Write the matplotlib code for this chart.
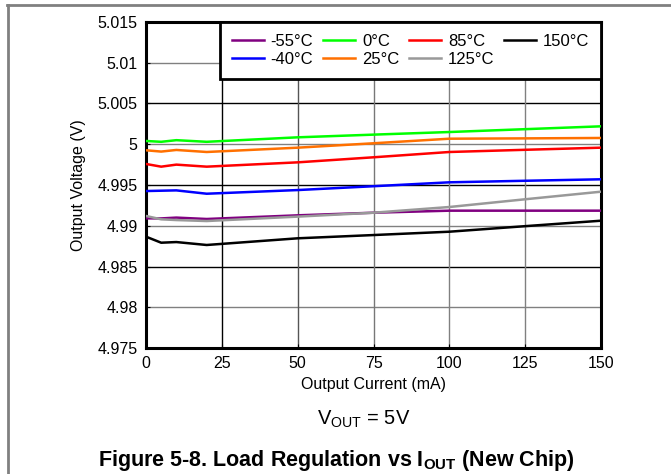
import matplotlib
matplotlib.use("Agg")
import matplotlib.pyplot as plt
from matplotlib.lines import Line2D

plt.rcParams['font.family'] = ['Liberation Sans', 'DejaVu Sans']
plt.rcParams['mathtext.fontset'] = 'custom'
plt.rcParams['mathtext.rm'] = 'Liberation Sans'
plt.rcParams['mathtext.bf'] = 'Liberation Sans:bold'

# Load regulation data: output current (mA) vs output voltage (V)
current = [0, 5, 10, 20, 50, 75, 100, 125, 150]

v_m55 = [4.99091, 4.99090, 4.99100, 4.99083, 4.99128, 4.99160, 4.99185, 4.99185, 4.99185]
v_m40 = [4.99426, 4.99430, 4.99434, 4.99393, 4.99438, 4.99485, 4.99533, 4.99552, 4.99570]
v_0 = [5.00040, 5.00030, 5.00050, 5.00030, 5.00085, 5.00118, 5.00150, 5.00185, 5.00220]
v_25 = [4.99926, 4.99910, 4.99930, 4.99905, 4.99958, 5.00012, 5.00068, 5.00072, 5.00077]
v_85 = [4.99758, 4.99725, 4.99750, 4.99725, 4.99778, 4.99840, 4.99905, 4.99932, 4.99958]
v_125 = [4.99120, 4.99079, 4.99070, 4.99058, 4.99112, 4.99160, 4.99230, 4.99325, 4.99418]
v_150 = [4.98866, 4.98792, 4.98800, 4.98764, 4.98846, 4.98886, 4.98927, 4.98995, 4.99062]

labels = ['-55°C', '-40°C', '0°C', '25°C', '85°C', '125°C', '150°C']
series = [v_m55, v_m40, v_0, v_25, v_85, v_125, v_150]
colors = ['#800080', '#0000ff', '#00ff00', '#ff7000', '#ff0000', '#999999', '#000000']

x_ticks = [0, 25, 50, 75, 100, 125, 150]
y_ticks = [4.975, 4.98, 4.985, 4.99, 4.995, 5, 5.005, 5.01, 5.015]
y_ticklabels = ['4.975', '4.98', '4.985', '4.99', '4.995', '5', '5.005', '5.01', '5.015']

fig = plt.figure(figsize=(6.71, 4.74), dpi=100)
ax = fig.add_axes([0.2176, 0.2658, 0.6781, 0.6878])

# grid lines, some darker than others
for y, c in zip(y_ticks[1:-1], ['#808080', '#000000', '#808080', '#000000', '#808080', '#000000', '#808080']):
    ax.axhline(y, color=c, lw=1.0, zorder=1)
for x, c in zip(x_ticks[1:-1], ['#000000', '#555555', '#777777', '#808080', '#808080']):
    ax.axvline(x, color=c, lw=1.0, zorder=1)

for vals, lab, col in zip(series, labels, colors):
    ax.plot(current, vals, color=col, lw=1.8, label=lab, zorder=3)

ax.set_xlim(0, 150)
ax.set_ylim(4.975, 5.015)
ax.set_xticks(x_ticks)
ax.set_yticks(y_ticks)
ax.set_yticklabels(y_ticklabels)
ax.tick_params(direction='in', length=3, labelsize=11.5, pad=6)
for s in ax.spines.values():
    s.set_linewidth(2.2)

ax.set_xlabel('Output Current (mA)', fontsize=11.5, labelpad=4)
ax.set_ylabel('Output Voltage (V)', fontsize=11.5, labelpad=8)

leg = ax.legend(ncol=4, loc='upper right', fontsize=12, frameon=True, fancybox=False,
                borderaxespad=0, handlelength=1.9, columnspacing=0.6, handletextpad=0.42,
                labelspacing=0.2, borderpad=0.7)
leg.get_frame().set_edgecolor('black')
leg.get_frame().set_linewidth(2)
leg.get_frame().set_alpha(1)
leg.set_zorder(5)

fig.text(0.5425, 0.103, r'V$_\mathrm{OUT}$ = 5V', ha='center', fontsize=14.5)
fig.text(0.5015, 0.016, r'Figure 5-8. Load Regulation vs I$_\mathbf{OUT}$ (New Chip)',
         ha='center', fontsize=15.5, fontweight='bold')

# table border around the figure
fig.add_artist(Line2D([0.0104, 1], [0.9905, 0.9905], color='#808080', lw=2))
fig.add_artist(Line2D([0.0115, 0.0115], [0, 0.9905], color='#808080', lw=2))

fig.savefig('out.png', dpi=100)
